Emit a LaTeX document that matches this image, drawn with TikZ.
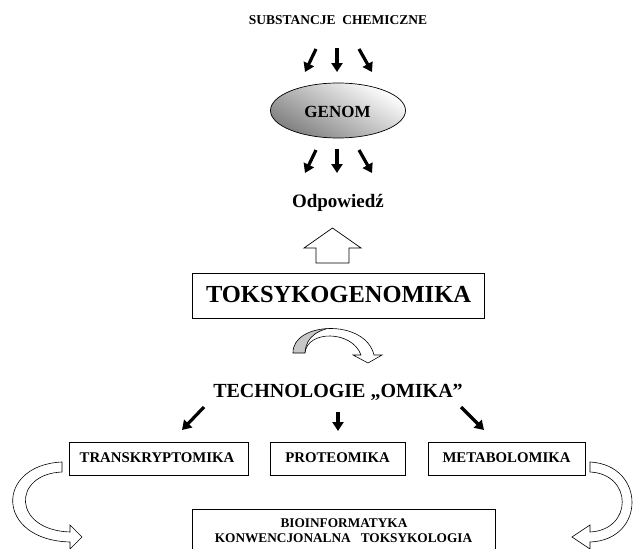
\documentclass[tikz,border=0pt]{standalone}
\usepackage{fontspec}
\setmainfont{Liberation Serif}[BoldFont={Liberation Serif Bold},ItalicFont={Liberation Serif Italic}]
\usetikzlibrary{arrows.meta,shapes.geometric}
\tikzset{
  fatarrow/.style={line width=3.2pt,-{Triangle[length=9pt,width=11pt]}},
  box/.style={draw,line width=0.8pt,fill=white,inner sep=0pt},
  lbl/.style={inner sep=0pt,anchor=base,font=\bfseries},
  ribbon/.style={draw,line width=0.6pt,fill=white,line join=miter},
}
\begin{document}
\begin{tikzpicture}[x=1pt,y=-1pt]
\useasboundingbox (0,0) rectangle (633,549);
\clip (0,0) rectangle (633,549);

% title
\node[lbl,font=\bfseries\fontsize{13.5}{15}\selectfont] (subst) at (338,24) {SUBSTANCJE\ \ CHEMICZNE};

% arrows to genome
\coordinate (a1s) at (316,49); \coordinate (a1e) at (305,72);
\coordinate (a2s) at (337,48); \coordinate (a2e) at (337,72);
\coordinate (a3s) at (359,49); \coordinate (a3e) at (372,72);
\draw[fatarrow] (a1s) -- (a1e);
\draw[fatarrow] (a2s) -- (a2e);
\draw[fatarrow] (a3s) -- (a3e);

% genome ellipse
\node[ellipse,draw,line width=0.7pt,minimum width=135,minimum height=55,inner sep=0pt,
      shading=axis,top color=white,bottom color=black!50,shading angle=-30] (genom) at (338,110.5) {};
\node[lbl,font=\bfseries\fontsize{17}{19}\selectfont] (genomt) at (337.5,117) {GENOM};

% arrows from genome
\coordinate (b1s) at (316,150); \coordinate (b1e) at (305,173);
\coordinate (b2s) at (337,149); \coordinate (b2e) at (337,173);
\coordinate (b3s) at (359,150); \coordinate (b3e) at (372,173);
\draw[fatarrow] (b1s) -- (b1e);
\draw[fatarrow] (b2s) -- (b2e);
\draw[fatarrow] (b3s) -- (b3e);

\node[lbl,font=\bfseries\fontsize{19}{21}\selectfont] (odp) at (338,207) {Odpowiedź};

% hollow up arrow
\draw[line width=0.7pt,fill=white] (304,248) -- (332.5,228) -- (361,248) -- (349,248) -- (349,263) -- (316,263) -- (316,248) -- cycle;

% main box
\node[box,minimum width=292,minimum height=45] (tox) at (338,295.5) {};
\node[lbl,font=\bfseries\fontsize{24.5}{27}\selectfont] (toxt) at (338.5,302) {TOKSYKOGENOMIKA};

% curved 3D arrow
\def\curvepath{(293,353) .. controls (292,322) and (365,318) .. (374,355) -- (382,355) -- (368,363) -- (353,355) -- (361,355) .. controls (352,330) and (307,330) .. (305,353) -- cycle}
\fill[white] \curvepath;
\begin{scope}
  \clip \curvepath;
  \fill[black!22] (305,353) .. controls (306,336) and (318,329) .. (340,326) -- (280,318) -- (280,360) -- cycle;
  \draw[line width=0.6pt] (305,353) .. controls (306,336) and (318,329) .. (340,326);
\end{scope}
\draw[line width=0.6pt,line join=miter] \curvepath;

% technologie omika
\node[lbl,font=\bfseries\fontsize{20}{22}\selectfont] (tech) at (338,397) {TECHNOLOGIE „OMIKA”};

\coordinate (c1s) at (204,407); \coordinate (c1e) at (182,430);
\coordinate (c2s) at (338,412); \coordinate (c2e) at (338,431);
\coordinate (c3s) at (461,407); \coordinate (c3e) at (484,430);
\draw[fatarrow] (c1s) -- (c1e);
\draw[fatarrow] (c2s) -- (c2e);
\draw[fatarrow] (c3s) -- (c3e);

% three boxes
\node[box,minimum width=179,minimum height=33] (trans) at (158.5,458.5) {};
\node[box,minimum width=135,minimum height=33] (prot) at (337.5,458.5) {};
\node[box,minimum width=157,minimum height=33] (meta) at (506.5,458.5) {};
\node[lbl,font=\bfseries\fontsize{14.8}{16}\selectfont] (transt) at (157,462.5) {TRANSKRYPTOMIKA};
\node[lbl,font=\bfseries\fontsize{14.8}{16}\selectfont] (prott) at (337.5,462.5) {PROTEOMIKA};
\node[lbl,font=\bfseries\fontsize{14.8}{16}\selectfont] (metat) at (506.5,462.5) {METABOLOMIKA};

% bottom box
\draw[line width=0.8pt] (192,570) -- (192,509) -- (495,509) -- (495,570);
\node[lbl,font=\bfseries\fontsize{13.3}{15}\selectfont] (bio) at (344,527) {BIOINFORMATYKA};
\node[lbl,font=\bfseries\fontsize{13.3}{15}\selectfont] (konw) at (343.5,542) {KONWENCJONALNA\ \ \ TOKSYKOLOGIA};

% side curved arrows
\draw[ribbon] (62,462) .. controls (-5,465) and (-5,540) .. (70,542) -- (70,549) -- (82,537) -- (70,525) -- (70,532) .. controls (12,530) and (12,474) .. (62,472) -- cycle;
\draw[ribbon] (590,462) .. controls (646,465) and (646,540) .. (590,542) -- (590,549) -- (572,537) -- (590,525) -- (590,532) .. controls (633,530) and (633,474) .. (590,472) -- cycle;
\end{tikzpicture}
\end{document}
